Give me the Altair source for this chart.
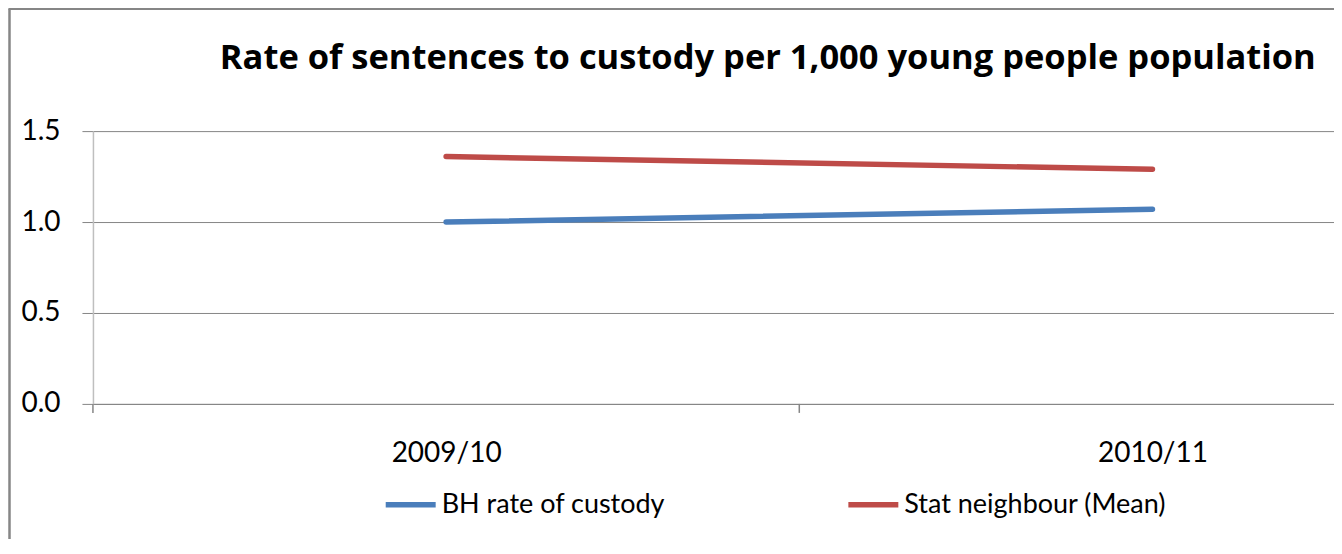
import json
import altair as alt
import pandas as pd

# ---- data ----
years = ["2009/10", "2010/11"]
series = ["BH rate of custody", "Stat neighbour (Mean)"]
bh_rate = [1.00, 1.07]
stat_mean = [1.36, 1.29]
y_ticks = [0.0, 0.5, 1.0, 1.5]
category_bounds = [-0.5, 0.5]   # tick marks between categories
colors = ["#4A7EBB", "#BE4B48"]
title_text = "Rate of sentences to custody per 1,000 young people population"

rows = []
for i, y in enumerate(years):
    rows.append({"idx": i, "year": y, "series": series[0], "value": bh_rate[i]})
    rows.append({"idx": i, "year": y, "series": series[1], "value": stat_mean[i]})
df = pd.DataFrame(rows)
bounds_df = pd.DataFrame({"b": category_bounds})
one = pd.DataFrame({"a": [0]})

W, H = 1242, 273
FONT = "Lato"
GRID = "#868686"

xscale = alt.Scale(domain=[-0.5, 1.257], nice=False, zero=False)
label_expr = json.dumps(years) + "[datum.value]"

lines = alt.Chart(df).mark_line(strokeWidth=5.5, strokeCap="round").encode(
    x=alt.X("idx:Q", scale=xscale,
            axis=alt.Axis(values=[0, 1], labelExpr=label_expr, tickSize=0,
                          grid=False, domainColor=GRID, domainWidth=1,
                          labelFont=FONT, labelFontSize=28, labelColor="#000000",
                          labelPadding=36, title=None)),
    y=alt.Y("value:Q", scale=alt.Scale(domain=[0, 1.5], nice=False),
            axis=alt.Axis(values=y_ticks, format=".1f", grid=True, gridColor=GRID,
                          gridWidth=1, tickColor=GRID, tickSize=11,
                          domainColor="#BFBFBF", domainWidth=1.5,
                          labelFont=FONT, labelFontSize=28, labelColor="#000000",
                          labelPadding=22, title=None)),
    color=alt.Color("series:N", scale=alt.Scale(domain=series, range=colors),
                    legend=alt.Legend(orient="none", legendX=290, legendY=346,
                                      direction="horizontal", title=None,
                                      symbolType="stroke", symbolSize=2500,
                                      symbolStrokeWidth=5.5, labelFont=FONT,
                                      labelFontSize=27, labelColor="#000000",
                                      labelOffset=3, columnPadding=172,
                                      labelLimit=400)),
)

ticks = alt.Chart(bounds_df).mark_rule(color=GRID, strokeWidth=1.5).encode(
    x=alt.X("b:Q", scale=xscale),
    y=alt.value(H),
    y2=alt.value(H + 9),
)

border_left = alt.Chart(one).mark_rule(color=GRID, strokeWidth=2.5).encode(
    x=alt.value(-83.5), y=alt.value(-122.5), y2=alt.value(H + 140)
)
border_top = alt.Chart(one).mark_rule(color=GRID, strokeWidth=2.5).encode(
    x=alt.value(-84.5), x2=alt.value(W), y=alt.value(-122.5)
)

chart = alt.layer(lines, ticks, border_left, border_top).properties(
    width=W, height=H,
    autosize=alt.AutoSizeParams(type="none"),
    padding={"left": 85, "top": 123, "right": 0, "bottom": 135},
    title=alt.TitleParams(title_text, anchor="start", frame="group", dx=127,
                          font="Open Sans", fontSize=34.5, fontWeight="bold",
                          color="#000000", offset=-69),
).configure_view(stroke=None)

chart.save("out.html", embed_options={"renderer": "svg", "actions": False})
